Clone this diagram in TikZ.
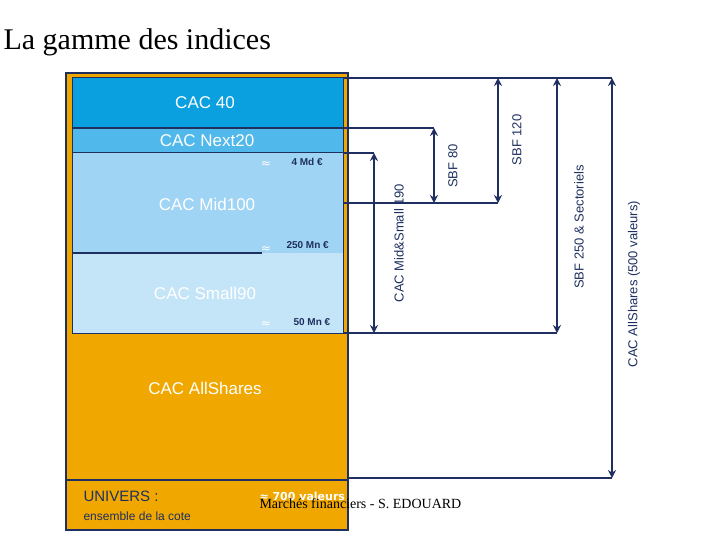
\documentclass[tikz,border=0pt]{standalone}
\usepackage{fontspec}
\setmainfont{Liberation Serif}
\newfontfamily\sansf{Liberation Sans}
\newfontfamily\dejav{DejaVu Sans}
\usetikzlibrary{arrows.meta}
\definecolor{navy}{HTML}{1F3060}
\definecolor{orng}{HTML}{F0A800}
\definecolor{bA}{HTML}{0AA0E0}
\definecolor{bB}{HTML}{50B8EA}
\definecolor{bC}{HTML}{A0D4F4}
\definecolor{bD}{HTML}{C4E4F8}
\tikzset{
 ln/.style={navy,line width=1.6pt},
 dim/.style={navy,line width=1.6pt,{Stealth[length=8pt,width=8pt]}-{Stealth[length=8pt,width=8pt]}},
 wlab/.style={white,font=\sansf\fontsize{17}{17}\selectfont},
 val/.style={navy,font=\sansf\bfseries\fontsize{10}{10}\selectfont},
 side/.style={navy,rotate=90,font=\sansf\fontsize{13}{13}\selectfont},
}
\begin{document}
\begin{tikzpicture}[x=1pt,y=-1pt]
\useasboundingbox (0,0) rectangle (720,540);
\node[anchor=west,font=\fontsize{30}{30}\selectfont] (title) at (0,42) {La gamme des indices};
\fill[orng] (66,73) rectangle (348,530);
\fill[bA] (72,78) rectangle (343,128);
\fill[bB] (72,128) rectangle (343,153);
\fill[bC] (72,153) rectangle (343,253);
\fill[bD] (72,253) rectangle (343,333);
\draw[navy,line width=1.5pt] (66,73) rectangle (348,530);
\draw[navy,line width=1pt] (72,78) rectangle (343,333);
\draw[ln] (72,128) -- (343,128);
\draw[navy,line width=1pt] (72,153) -- (343,153);
\draw[ln] (72,253) -- (262,253);
\draw[ln] (66,480) -- (348,480);
\node[wlab] (c40) at (205,103) {CAC 40};
\node[wlab] (cn20) at (207,141) {CAC Next20};
\node[wlab] (cm) at (207,204) {CAC Mid100};
\node[wlab] (cs) at (205,293) {CAC Small90};
\node[wlab] (ca) at (205,388) {CAC AllShares};
\node[white,font=\dejav\fontsize{12}{12}\selectfont] (a1) at (266,165) {≈};
\node[val,anchor=west] (v1) at (288,162) {4 Md €};
\node[white,font=\dejav\fontsize{12}{12}\selectfont] (a2) at (266,250) {≈};
\node[val,anchor=west] (v2) at (283,245) {250 Mn €};
\node[white,font=\dejav\fontsize{12}{12}\selectfont] (a3) at (266,325) {≈};
\node[val,anchor=west] (v3) at (290,322) {50 Mn €};
\node[anchor=west,navy,font=\sansf\fontsize{15}{15}\selectfont] (u1) at (80,496) {UNIVERS :};
\node[anchor=west,navy,font=\sansf\fontsize{12}{12}\selectfont] (u2) at (80,516) {ensemble de la cote};
\node[anchor=west,white,font=\dejav\bfseries\fontsize{11}{11}\selectfont] (u3) at (256,496) {≈ 700 valeurs};
\coordinate (r0) at (343,78);
\coordinate (r1) at (343,128);
\coordinate (r2) at (343,153);
\coordinate (r3) at (343,203);
\coordinate (r4) at (343,333);
\coordinate (r5) at (348,478);
\coordinate (p1) at (434,128); \coordinate (q1) at (434,203);
\coordinate (p2) at (374,153); \coordinate (q2) at (374,333);
\coordinate (p3) at (498,78); \coordinate (q3) at (498,203);
\coordinate (p4) at (557,78); \coordinate (q4) at (557,333);
\coordinate (p5) at (612,78); \coordinate (q5) at (612,478);
\draw[ln] (r0) -- (p5);
\draw[ln] (r1) -- (p1);
\draw[ln] (r2) -- (p2);
\draw[ln] (r3) -- (q3);
\draw[ln] (r4) -- (q4);
\draw[ln] (r5) -- (q5);
\draw[dim] (p1) -- (q1);
\draw[dim] (p2) -- (q2);
\draw[dim] (p3) -- (q3);
\draw[dim] (p4) -- (q4);
\draw[dim] (p5) -- (q5);
\node[side] (s1) at (453,166) {SBF 80};
\node[side] (s2) at (517,140) {SBF 120};
\node[side] (s3) at (399,243) {CAC Mid\&Small 190};
\node[side] (s4) at (579,227) {SBF 250 \& Sectoriels};
\node[side] (s5) at (634,284) {CAC AllShares (500 valeurs)};
\node[anchor=west,font=\fontsize{14}{14}\selectfont] (foot) at (256,504) {Marchés financiers - S. EDOUARD};
\end{tikzpicture}
\end{document}
